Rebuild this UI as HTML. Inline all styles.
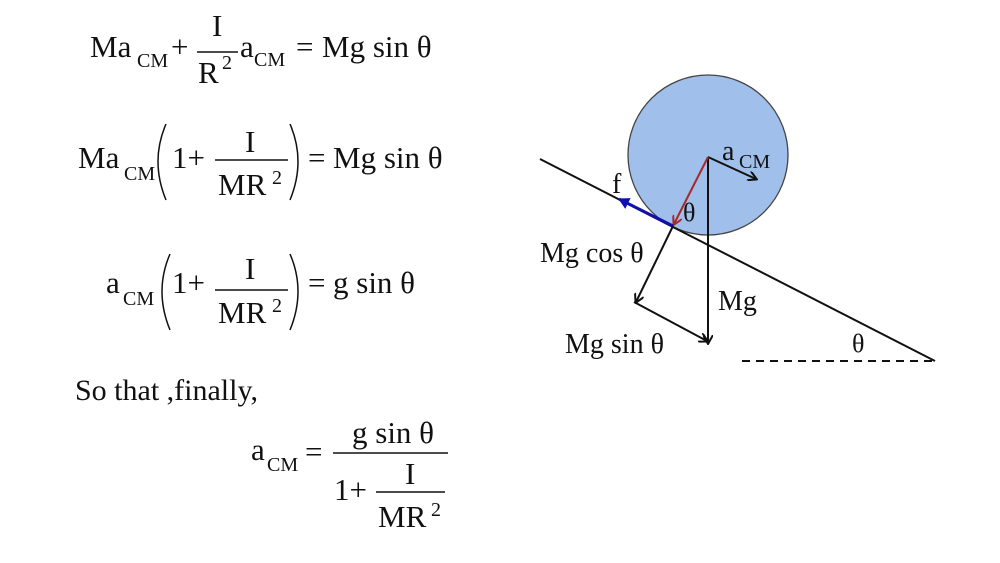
<!DOCTYPE html>
<html><head><meta charset="utf-8"><style>
html,body{margin:0;padding:0;background:#fff;}
svg{display:block;}
text{font-family:"Liberation Serif",serif;fill:#111;}
.m{font-size:31px;}
.s{font-size:20px;}
</style></head><body>
<svg width="1000" height="563" viewBox="0 0 1000 563" xmlns="http://www.w3.org/2000/svg">
<defs>
<marker id="ak" markerWidth="10" markerHeight="10" refX="8" refY="5" orient="auto" markerUnits="userSpaceOnUse"><path d="M0,0 L9,5 L0,10" fill="none" stroke="#111" stroke-width="2"/></marker>
<marker id="ar" markerWidth="10" markerHeight="10" refX="8" refY="5" orient="auto" markerUnits="userSpaceOnUse"><path d="M0,0 L9,5 L0,10" fill="none" stroke="#a52a2a" stroke-width="2"/></marker>
<marker id="ab" markerWidth="12" markerHeight="12" refX="10" refY="6" orient="auto" markerUnits="userSpaceOnUse"><path d="M0,0 L11,6 L0,12 Z" fill="#1010b0"/></marker>
</defs>

<!-- Eq1 -->
<text class="m" x="90" y="57">Ma</text>
<text class="s" x="137" y="67">CM</text>
<text class="m" x="171" y="57">+</text>
<line x1="197" y1="52" x2="238" y2="52" stroke="#111" stroke-width="1.5"/>
<text class="m" x="212" y="36">I</text>
<text class="m" x="198" y="83">R</text>
<text class="s" x="222" y="69">2</text>
<text class="m" x="240" y="57">a</text>
<text class="s" x="254" y="66">CM</text>
<text class="m" x="296" y="57">=</text>
<text class="m" x="322" y="57">Mg sin θ</text>

<!-- Eq2 -->
<text class="m" x="78" y="168">Ma</text>
<text class="s" x="124" y="180">CM</text>
<path d="M166,124 Q150,161 166,200" fill="none" stroke="#111" stroke-width="1.5"/>
<text class="m" x="172" y="168">1+</text>
<line x1="215" y1="160" x2="288" y2="160" stroke="#111" stroke-width="1.5"/>
<text class="m" x="245" y="152">I</text>
<text class="m" x="218" y="195">MR</text>
<text class="s" x="272" y="184">2</text>
<path d="M290,124 Q306,161 290,200" fill="none" stroke="#111" stroke-width="1.5"/>
<text class="m" x="308" y="168">=</text>
<text class="m" x="333" y="168">Mg sin θ</text>

<!-- Eq3 -->
<text class="m" x="106" y="293">a</text>
<text class="s" x="123" y="305">CM</text>
<path d="M170,254 Q154,291 170,330" fill="none" stroke="#111" stroke-width="1.5"/>
<text class="m" x="172" y="293">1+</text>
<line x1="215" y1="290" x2="288" y2="290" stroke="#111" stroke-width="1.5"/>
<text class="m" x="245" y="279">I</text>
<text class="m" x="218" y="323">MR</text>
<text class="s" x="272" y="312">2</text>
<path d="M290,254 Q306,291 290,330" fill="none" stroke="#111" stroke-width="1.5"/>
<text class="m" x="308" y="293">=</text>
<text class="m" x="333" y="293">g sin θ</text>

<text class="m" x="75" y="400" style="font-size:30px">So that ,finally,</text>

<!-- Final -->
<text class="m" x="251" y="460">a</text>
<text class="s" x="267" y="471">CM</text>
<text class="m" x="305" y="462">=</text>
<line x1="333" y1="453" x2="448" y2="453" stroke="#111" stroke-width="1.5"/>
<text class="m" x="352" y="443">g sin θ</text>
<text class="m" x="334" y="500">1+</text>
<line x1="376" y1="492" x2="445" y2="492" stroke="#111" stroke-width="1.5"/>
<text class="m" x="405" y="484">I</text>
<text class="m" x="378" y="527">MR</text>
<text class="s" x="431" y="516">2</text>

<!-- Diagram -->
<circle cx="708" cy="155" r="80" fill="#a0bfea" stroke="#444" stroke-width="1.3"/>
<line x1="540" y1="159" x2="935" y2="361" stroke="#111" stroke-width="2"/>
<line x1="742" y1="361" x2="935" y2="361" stroke="#111" stroke-width="2" stroke-dasharray="8,6"/>
<line x1="708" y1="157" x2="708" y2="343" stroke="#111" stroke-width="2" marker-end="url(#ak)"/>
<line x1="708" y1="157" x2="756" y2="179" stroke="#111" stroke-width="2" marker-end="url(#ak)"/>
<line x1="708" y1="157" x2="674" y2="224" stroke="#a52a2a" stroke-width="2" marker-end="url(#ar)"/>
<line x1="673" y1="226" x2="619" y2="199" stroke="#1010b0" stroke-width="3" marker-end="url(#ab)"/>
<line x1="673" y1="226" x2="636" y2="302" stroke="#111" stroke-width="2" marker-end="url(#ak)"/>
<line x1="634" y1="302" x2="707" y2="341" stroke="#111" stroke-width="2" marker-end="url(#ak)"/>
<text class="m" x="722" y="160" style="font-size:28px">a</text>
<text class="s" x="739" y="168">CM</text>
<text class="m" x="612" y="193" style="font-size:28px">f</text>
<text class="m" x="683" y="221" style="font-size:26px">θ</text>
<text class="m" x="540" y="262" style="font-size:28px">Mg cos θ</text>
<text class="m" x="718" y="310" style="font-size:28px">Mg</text>
<text class="m" x="565" y="353" style="font-size:28px">Mg sin θ</text>
<text class="m" x="852" y="352" style="font-size:26px">θ</text>
</svg>
</body></html>
